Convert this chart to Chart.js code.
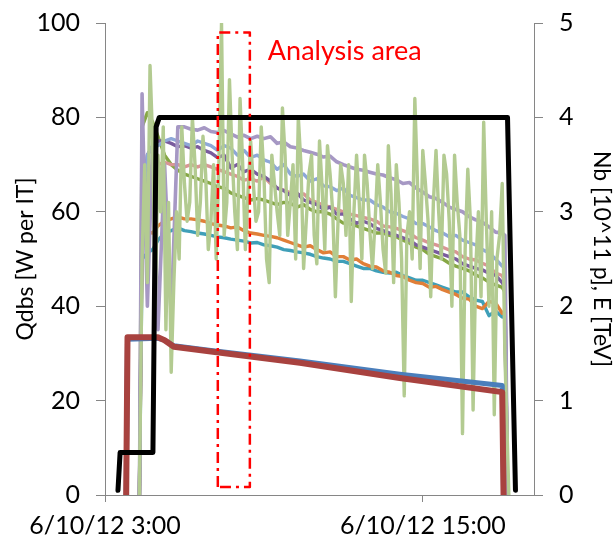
<!DOCTYPE html>
<html>
<head>
<meta charset="utf-8">
<script src="https://cdn.jsdelivr.net/npm/chart.js@4.4.1/dist/chart.umd.min.js"></script>
<style>
  html, body { margin: 0; padding: 0; background: #fff; }
</style>
</head>
<body>
<canvas id="chart" width="615" height="547"></canvas>
<script>
// x values are hours of 6/10/12
const xTicks = [3, 15];
const xTickLabels = ['6/10/12 3:00', '6/10/12 15:00'];

// Qdbs series share one time base
const qTime = [4.3, 4.4, 4.6, 4.8,
  5, 5.25, 5.5, 5.75, 6, 6.25, 6.5, 6.75, 7, 7.25, 7.5, 7.75, 8, 8.25, 8.5, 8.75,
  9, 9.25, 9.5, 9.75, 10, 10.25, 10.5, 10.75, 11, 11.25, 11.5, 11.75, 12, 12.25, 12.5, 12.75,
  13, 13.25, 13.5, 13.75, 14, 14.25, 14.5, 14.75, 15, 15.25, 15.5, 15.75, 16, 16.25, 16.5, 16.75,
  17, 17.25, 17.5, 17.75, 18, 18.1, 18.2];

const qLavender = [0, 85, 40, 75,
  35, 70, 38, 78, 78, 77.5, 77.3, 77.8, 77, 76.8, 77.2, 76.5, 75.8, 76.2, 75.5, 76,
  75.5, 75.9, 74.5, 74.8, 73.8, 73.5, 73, 72.6, 72.2, 71.6, 71.8, 70.6, 70, 69.5, 69, 68.8,
  68.4, 68, 67.8, 67.2, 66.8, 66, 66.2, 65, 64.2, 63.2, 62.8, 62, 61, 60.5, 60, 59,
  58.3, 57.8, 56.8, 55.7, 55.5, 55, 0];

const qLightBlue = [0, 60, 72, 74,
  74, 75, 75.5, 75, 74.5, 74, 75, 74.5, 74, 73, 74, 73.5, 72, 73, 71.5, 72,
  71, 70.5, 69, 70, 68, 67.5, 68, 66.5, 67, 65.5, 65.3, 64.5, 65, 63.5, 63, 62.5,
  62.5, 61.5, 61, 60, 59.7, 59, 58.5, 57.5, 57.5, 56.8, 56, 55.5, 54.7, 55, 54, 53.5,
  53, 52, 51.3, 50, 48.5, 48, 0];

const qDarkPurple = [0, 60, 72, 74,
  75, 75, 74.5, 73.8, 74, 73.5, 73.8, 73, 72.5, 71.5, 72, 69.3, 70, 68.5, 69, 68,
  67.5, 66.5, 65, 64.5, 63.5, 64, 62.5, 62, 61.5, 60.5, 61, 59.5, 59.5, 58.5, 57.6, 58,
  57.5, 56.5, 56, 55.5, 55, 54.5, 54, 53, 52.5, 52, 51.5, 51, 50.5, 50, 49, 48.5,
  48, 47.7, 47, 46.5, 45, 44, 0];

const qPink = [0, 55, 68, 70,
  70, 70.5, 70, 70, 69.5, 70, 69.5, 70, 69.5, 69, 68.5, 68, 67.5, 66.7, 67, 66.5,
  67.4, 66, 65, 64.6, 64, 63.5, 63.8, 62.5, 62, 61.4, 61, 60.5, 60, 59.5, 59.2, 58.8,
  58.5, 58, 57, 56.8, 56.5, 56, 55.5, 54.5, 54, 53.4, 53, 52.5, 51.9, 51.5, 50.5, 50,
  49.8, 49.1, 48.5, 47, 46.5, 45, 0];

const qOlive = [0, 78, 81, 79,
  76, 72, 70, 68.8, 68, 67.5, 67, 66.5, 66, 65.3, 65, 64, 63.5, 63, 62.5, 62.8,
  62.5, 62, 61.5, 62, 61.8, 61, 61.5, 60.5, 60, 60, 59.5, 58.5, 57.6, 57.5, 57, 56.5,
  56, 55.5, 55.5, 55, 54.7, 54, 53.4, 52.5, 52, 51, 50.5, 50, 49.1, 48.5, 48, 47.5,
  46.6, 46, 45.1, 44.5, 44, 43, 0];

const qOrange = [0, 55, 55.7, 55.5,
  57, 58, 58.5, 58.9, 58.5, 58.5, 58.3, 58, 57.5, 57.2, 57, 56.6, 56.8, 56, 55.5, 55.3,
  55, 54.8, 54.5, 54, 53.5, 53, 52.5, 52.8, 52, 51.3, 51.5, 50.5, 50.5, 49.8, 50, 49,
  48.5, 48.3, 47.5, 47.2, 46.5, 46.3, 45.5, 45, 44.8, 44, 44.2, 43.5, 43, 42.5, 41.7, 41.5,
  40, 39.5, 41, 40.7, 38.5, 39, 0];

const qTeal = [0, 50, 51.3, 52,
  54, 55.5, 56, 56.6, 56, 55.8, 55.5, 55.3, 55, 54.7, 54.5, 54.2, 54, 53.8, 53.4, 53.5,
  53, 52.8, 52.5, 52, 51.8, 51.5, 51.3, 51, 50.5, 50.2, 50, 49.5, 49.5, 49, 48.5, 48,
  48, 47.5, 47.2, 47, 47.2, 46.5, 46, 45.5, 45.5, 45, 44.5, 44, 43.5, 43, 43, 42,
  41.3, 41, 38, 39, 37.7, 38, 0];

// the noisy light green Qdbs series, one row per hour
const gTime = [4.3, 4.4, 4.5, 4.6, 4.7, 4.8, 4.9,
  5.0, 5.1, 5.2, 5.3, 5.4, 5.5, 5.6, 5.7, 5.8, 5.9,
  6.0, 6.1, 6.2, 6.3, 6.4, 6.5, 6.6, 6.7, 6.8, 6.9,
  7.0, 7.1, 7.2, 7.3, 7.4, 7.5, 7.6, 7.7, 7.8, 7.9,
  8.0, 8.1, 8.2, 8.3, 8.4, 8.5, 8.6, 8.7, 8.8, 8.9,
  9.0, 9.1, 9.2, 9.3, 9.4, 9.5, 9.6, 9.7, 9.8, 9.9,
  10.0, 10.1, 10.2, 10.3, 10.4, 10.5, 10.6, 10.7, 10.8, 10.9,
  11.0, 11.1, 11.2, 11.3, 11.4, 11.5, 11.6, 11.7, 11.8, 11.9,
  12.0, 12.1, 12.2, 12.3, 12.4, 12.5, 12.6, 12.7, 12.8, 12.9,
  13.0, 13.1, 13.2, 13.3, 13.4, 13.5, 13.6, 13.7, 13.8, 13.9,
  14.0, 14.1, 14.2, 14.3, 14.4, 14.5, 14.6, 14.7, 14.8, 14.9,
  15.0, 15.1, 15.2, 15.3, 15.4, 15.5, 15.6, 15.7, 15.8, 15.9,
  16.0, 16.1, 16.2, 16.3, 16.4, 16.5, 16.6, 16.7, 16.8, 16.9,
  17.0, 17.1, 17.2, 17.3, 17.4, 17.5, 17.6, 17.7, 17.8, 17.9,
  18.0, 18.1, 18.25];
const gLightGreen = [0, 50, 70, 45, 91, 75, 40,
  72, 60, 78, 35, 62, 26, 45, 60, 50, 78,
  66, 58, 62, 80, 70, 55, 62, 76, 68, 52,
  58, 70, 50, 70, 100, 55, 62, 88, 72, 60,
  52, 84, 70, 52, 64, 75, 66, 58, 60, 78,
  68, 50, 45, 72, 66, 60, 55, 82, 72, 55,
  62, 70, 50, 80, 70, 48, 58, 68, 72, 55,
  49, 75, 65, 52, 74, 68, 60, 42, 58, 70,
  66, 55, 70, 41, 60, 72, 62, 50, 72, 66,
  56, 48, 58, 70, 62, 52, 47, 74, 64, 45,
  70, 62, 50, 21, 55, 60, 50, 84, 66, 48,
  73, 66, 58, 42, 62, 73, 60, 50, 72, 68,
  58, 40, 72, 62, 55, 13, 52, 69, 58, 18,
  48, 60, 42, 79, 58, 40, 60, 17, 50, 55,
  66, 30, 0];

// beam: Nb (right axis)
const nbTime = [3.8, 3.85, 5.0, 5.25, 5.6, 7.0, 10.36, 14.13, 18.0, 18.05];
const nbRed = [0, 1.67, 1.67, 1.64, 1.57, 1.52, 1.40, 1.24, 1.09, 0];
const nbBlue = [0, 1.65, 1.66, 1.64, 1.58, 1.53, 1.42, 1.28, 1.16, 0];

// beam energy E (right axis)
const eTime = [3.49, 3.57, 4.81, 4.93, 5.05, 18.2, 18.35, 18.5];
const eValue = [0.05, 0.45, 0.45, 3.9, 4.0, 4.0, 2.0, 0.05];

// analysis area box, left axis units
const analysisX = [7.26, 8.47];
const analysisY = [1.7, 98];

function pts(xs, ys) {
  return xs.map((x, i) => ({ x: x, y: ys[i] }));
}

function line(label, xs, ys, color, width, axis, order) {
  return {
    label: label,
    data: pts(xs, ys),
    borderColor: color,
    borderWidth: width,
    yAxisID: axis,
    order: order,
    pointRadius: 0,
    tension: 0,
    borderJoinStyle: 'round',
    borderCapStyle: 'round',
    fill: false
  };
}

const boxXs = [analysisX[0], analysisX[0], analysisX[1], analysisX[1], analysisX[0]];
const boxYs = [analysisY[0], analysisY[1], analysisY[1], analysisY[0], analysisY[0]];
const box = line('Analysis area', boxXs, boxYs, '#FF0000', 2.5, 'y', 0);
box.borderDash = [11, 5, 3, 5];
box.borderCapStyle = 'butt';

const datasets = [
  box,
  line('E', eTime, eValue, '#000000', 5, 'y2', 1),
  line('Nb B2', nbTime, nbRed, '#A8423F', 6, 'y2', 2),
  line('Nb B1', nbTime, nbBlue, '#4A7EBB', 5, 'y2', 3),
  line('Q7', gTime, gLightGreen, '#B3CB91', 3.4, 'y', 4),
  line('Q6', qTime, qLavender, '#A698C4', 3.6, 'y', 5),
  line('Q5', qTime, qLightBlue, '#8EA8D8', 3.4, 'y', 6),
  line('Q4', qTime, qDarkPurple, '#7A5C9E', 3.4, 'y', 7),
  line('Q3', qTime, qPink, '#D99694', 3.4, 'y', 8),
  line('Q2', qTime, qOlive, '#86A744', 3.4, 'y', 9),
  line('Q1', qTime, qOrange, '#E07F38', 3.4, 'y', 10),
  line('Q0', qTime, qTeal, '#3F9FB8', 3.4, 'y', 11)
];

const tickFont = { family: 'Lato', size: 25 };
const titleFont = { family: 'Lato', size: 23, lineHeight: 1.2 };
const axisGray = '#868686';

// keep the top/bottom label overhang from pushing the plot area in
function fixVertical(width) {
  return s => {
    s.width = width;
    s.paddingTop = 10;
    s.paddingBottom = 10;
  };
}

// red "Analysis area" label next to the box
const areaLabel = {
  id: 'areaLabel',
  afterDatasetsDraw(chart) {
    const ctx = chart.ctx;
    const x = chart.scales.x.getPixelForValue(analysisX[1]) + 18;
    const y = chart.scales.y.getPixelForValue(94);
    ctx.save();
    ctx.font = '27px Lato';
    ctx.fillStyle = '#FF0000';
    ctx.textBaseline = 'middle';
    ctx.fillText('Analysis area', x, y);
    ctx.restore();
  }
};

new Chart(document.getElementById('chart'), {
  type: 'line',
  data: { datasets: datasets },
  options: {
    responsive: false,
    animation: false,
    layout: { padding: { top: 23, left: 0, right: 0, bottom: 0 } },
    plugins: { legend: { display: false }, tooltip: { enabled: false } },
    scales: {
      x: {
        type: 'linear',
        min: 3,
        max: 19.2,
        afterBuildTicks: s => { s.ticks = xTicks.map(v => ({ value: v })); },
        afterFit: s => { s.height = 52; },
        ticks: {
          autoSkip: false,
          maxRotation: 0,
          padding: 9,
          color: '#000',
          font: tickFont,
          callback: v => xTickLabels[xTicks.indexOf(v)]
        },
        grid: { drawOnChartArea: false, drawTicks: true, tickLength: 7, color: axisGray },
        border: { color: axisGray }
      },
      y: {
        position: 'left',
        min: 0,
        max: 100,
        afterFit: fixVertical(105),
        ticks: { stepSize: 20, padding: 16, color: '#000', font: tickFont },
        grid: { drawOnChartArea: false, drawTicks: true, tickLength: 9, color: axisGray },
        border: { color: axisGray },
        title: { display: true, text: 'Qdbs [W per IT]', color: '#000', font: titleFont, padding: { top: 12, bottom: 0 } }
      },
      y2: {
        position: 'right',
        min: 0,
        max: 5,
        afterFit: fixVertical(81),
        ticks: { stepSize: 1, padding: 16, color: '#000', font: tickFont },
        grid: { drawOnChartArea: false, drawTicks: true, tickLength: 9, color: axisGray },
        border: { color: axisGray },
        title: { display: true, text: 'Nb [10^11 p], E [TeV]', color: '#000', font: titleFont, padding: { top: 0, bottom: 0 } }
      }
    }
  },
  plugins: [areaLabel]
});
</script>
</body>
</html>
